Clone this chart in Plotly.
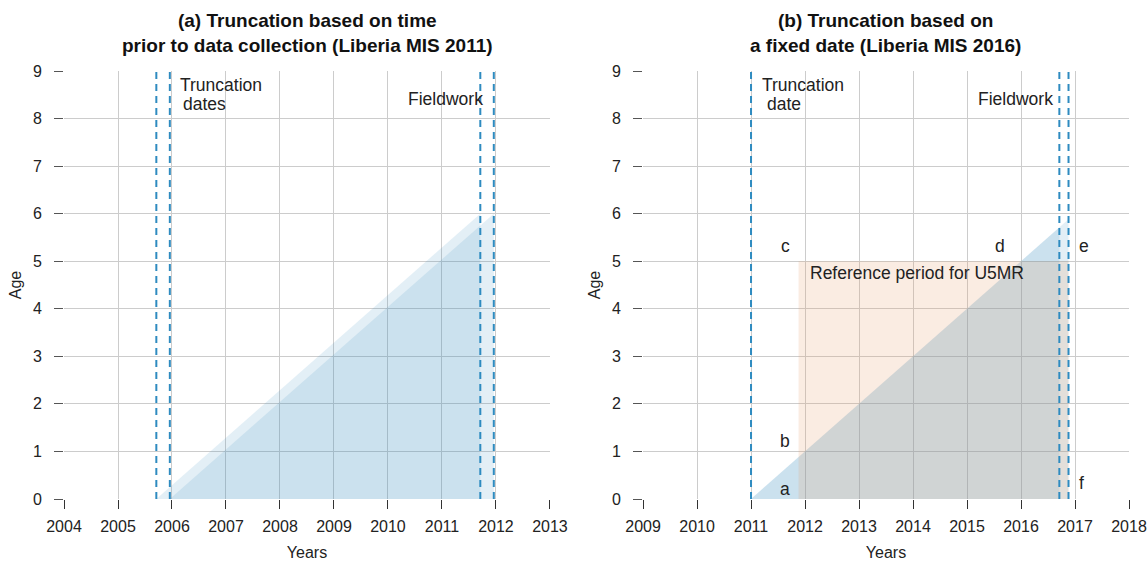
import plotly.graph_objects as go

# ---------------- data ----------------
# Panel (a): Liberia MIS 2011
a_years = [2004, 2005, 2006, 2007, 2008, 2009, 2010, 2011, 2012, 2013]
a_trunc_dates = [2005.71, 2005.96]
a_fieldwork = [2011.71, 2011.96]
a_max_age = [6.0, 6.0]

# Panel (b): Liberia MIS 2016
b_years = [2009, 2010, 2011, 2012, 2013, 2014, 2015, 2016, 2017, 2018]
b_trunc_date = 2011.0
b_fieldwork = [2016.71, 2016.88]
b_ref_period = [2011.88, 2016.88]
b_ref_age = [0, 5]

ages = [0, 1, 2, 3, 4, 5, 6, 7, 8, 9]

# --------------- styles ----------------
FONT = "Liberation Sans, Arial, sans-serif"
BLUE_FILL = "rgba(60,140,190,0.14)"
PEACH_FILL = "rgba(230,160,110,0.2)"
DASH_COLOR = "#2E8BC0"

fig = go.Figure()

# panel (a) triangles
for s, e, h in zip(a_trunc_dates, a_fieldwork, a_max_age):
    fig.add_trace(go.Scatter(x=[s, e, e, s], y=[0, h, 0, 0], fill="toself",
                             fillcolor=BLUE_FILL, mode="lines", line=dict(width=0),
                             hoverinfo="skip", showlegend=False, xaxis="x", yaxis="y"))

# panel (b) triangles
for e in b_fieldwork:
    fig.add_trace(go.Scatter(x=[b_trunc_date, e, e, b_trunc_date], y=[0, e - b_trunc_date, 0, 0],
                             fill="toself", fillcolor=BLUE_FILL, mode="lines", line=dict(width=0),
                             hoverinfo="skip", showlegend=False, xaxis="x2", yaxis="y2"))

# panel (b) reference period rectangle
fig.add_trace(go.Scatter(x=[b_ref_period[0], b_ref_period[1], b_ref_period[1], b_ref_period[0], b_ref_period[0]],
                         y=[b_ref_age[0], b_ref_age[0], b_ref_age[1], b_ref_age[1], b_ref_age[0]],
                         fill="toself", fillcolor=PEACH_FILL, mode="lines", line=dict(width=0),
                         hoverinfo="skip", showlegend=False, xaxis="x2", yaxis="y2"))

# dashed vertical lines
for xv in a_trunc_dates + a_fieldwork:
    fig.add_trace(go.Scatter(x=[xv, xv], y=[ages[0], ages[-1]], mode="lines",
                             line=dict(color=DASH_COLOR, width=2, dash="7px,5px"),
                             hoverinfo="skip", showlegend=False, xaxis="x", yaxis="y"))
for xv in [b_trunc_date] + b_fieldwork:
    fig.add_trace(go.Scatter(x=[xv, xv], y=[ages[0], ages[-1]], mode="lines",
                             line=dict(color=DASH_COLOR, width=2, dash="7px,5px"),
                             hoverinfo="skip", showlegend=False, xaxis="x2", yaxis="y2"))

xaxis_common = dict(
    showgrid=True, gridcolor="#CCCCCC", gridwidth=1, zeroline=False, showline=False,
    ticks="outside", ticklen=9, tickcolor="#333333", tickwidth=1.2,
    tickfont=dict(family=FONT, size=16, color="#222222"),
    title=dict(text="Years", font=dict(family=FONT, size=16, color="#222222"), standoff=14),
    tickmode="array", automargin=False, ticklabelstandoff=4,
)
yaxis_common = dict(
    showgrid=True, gridcolor="#CCCCCC", gridwidth=1, zeroline=False, showline=False,
    range=[0, 9], tickmode="array", tickvals=ages, ticktext=[str(a) for a in ages],
    ticks="outside", ticklen=9, tickcolor="#555555", tickwidth=1.2,
    tickfont=dict(family=FONT, size=16, color="#222222"),
    title=dict(text="Age", font=dict(family=FONT, size=16, color="#222222"), standoff=7),
    ticklabelstandoff=9, automargin=False,
)

ann = []
def txt(x, y, s, xref, yref, xanchor="left", size=17.5):
    ann.append(dict(x=x, y=y, xref=xref, yref=yref, text=s, showarrow=False,
                    xanchor=xanchor, yanchor="middle",
                    font=dict(family=FONT, size=size, color="#222222")))

# panel (a) text
txt(2006.11, 8.71, "Truncation", "x", "y")
txt(2006.17, 8.31, "dates", "x", "y")
txt(2011.06, 8.42, "Fieldwork", "x", "y", xanchor="center")
# panel (b) text
txt(2011.17, 8.71, "Truncation", "x2", "y2")
txt(2011.26, 8.31, "date", "x2", "y2")
txt(2015.9, 8.42, "Fieldwork", "x2", "y2", xanchor="center")
txt(2012.06, 4.76, "Reference period for U5MR", "x2", "y2")
txt(2011.63, 5.31, "c", "x2", "y2", xanchor="center")
txt(2015.61, 5.31, "d", "x2", "y2", xanchor="center")
txt(2017.04, 5.31, "e", "x2", "y2")
txt(2011.63, 1.23, "b", "x2", "y2", xanchor="center")
txt(2011.63, 0.22, "a", "x2", "y2", xanchor="center")
txt(2017.04, 0.34, "f", "x2", "y2")

# titles
for xc, t in [(0.2282, "(a) Truncation based on time<br>prior to data collection (Liberia MIS 2011)"),
              (0.7718, "(b) Truncation based on<br>a fixed date (Liberia MIS 2016)")]:
    ann.append(dict(x=xc, y=1.148, xref="paper", yref="paper", text="<b>" + t + "</b>",
                    showarrow=False, xanchor="center", yanchor="top",
                    font=dict(family=FONT, size=19, color="#111111")))

fig.update_layout(
    width=1148, height=561,
    margin=dict(l=64, r=19, t=71, b=62, pad=0, autoexpand=False),
    plot_bgcolor="white", paper_bgcolor="white",
    xaxis=dict(domain=[0, 0.4563], range=[a_years[0], a_years[-1]], tickvals=a_years,
               ticktext=[str(v) for v in a_years], anchor="y", **xaxis_common),
    yaxis=dict(domain=[0, 1], anchor="x", **yaxis_common),
    xaxis2=dict(domain=[0.5437, 1], range=[b_years[0], b_years[-1]], tickvals=b_years,
                ticktext=[str(v) for v in b_years], anchor="y2", **xaxis_common),
    yaxis2=dict(domain=[0, 1], anchor="x2", **yaxis_common),
    annotations=ann,
    showlegend=False,
)

fig.write_html("out.html")
